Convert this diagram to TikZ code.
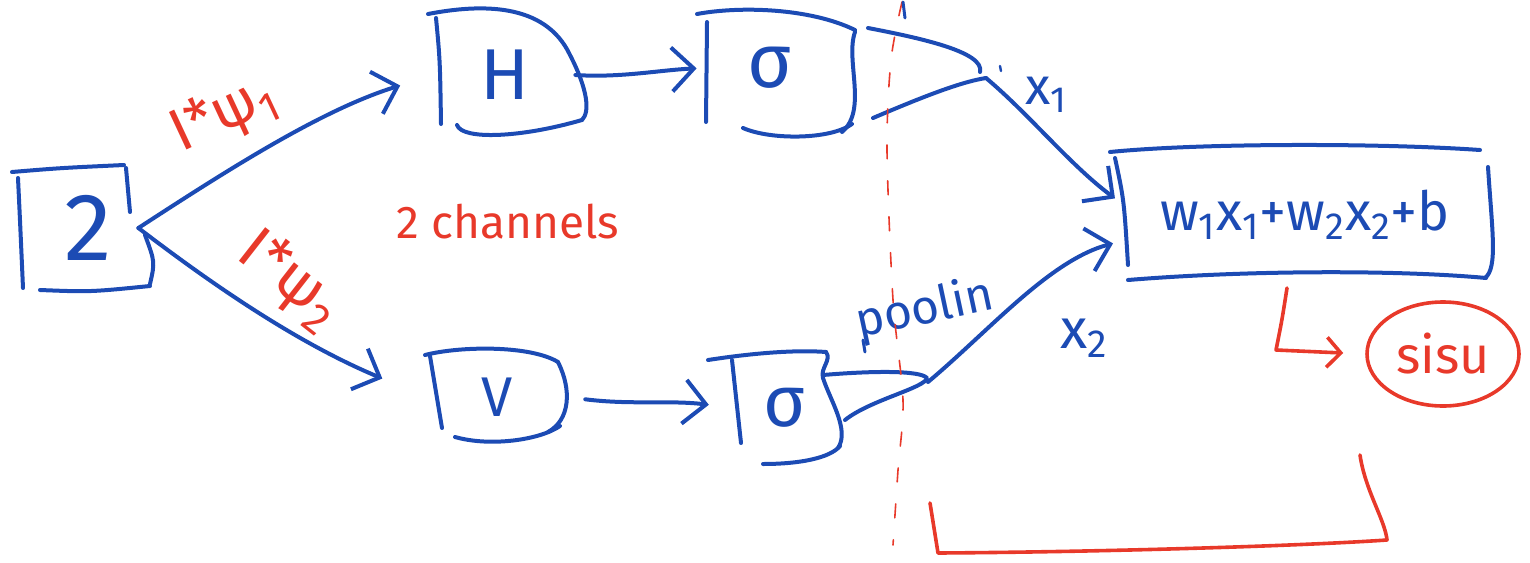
\documentclass[tikz,border=0pt]{standalone}
\usepackage{fontspec}
\setmainfont{Fira Sans}
\usetikzlibrary{arrows.meta,shapes.geometric}
\definecolor{ink}{HTML}{1C4BB4}
\definecolor{marker}{HTML}{E8392A}
\begin{document}
\begin{tikzpicture}[x=0.5pt,y=-0.5pt,line cap=round,line join=round,
  pen/.style={draw=ink,line width=2pt},
  redpen/.style={draw=marker,line width=1.8pt},
  guide/.style={draw=marker,line width=0.8pt,dash pattern=on 7pt off 11pt},
  barb/.style={-{Straight Barb[length=11pt,width=22pt]}},
  redbarb/.style={-{Straight Barb[length=7pt,width=15pt]}},
  area/.style={draw=none,inner sep=0pt},
  bluetext/.style={text=ink},
  redtext/.style={text=marker}]
\useasboundingbox (0,0) rectangle (1530,562);

% ---------- nodes (text and box areas) ----------
\node[area,minimum width=50pt,minimum height=60pt,bluetext,
      font=\fontsize{48}{48}\selectfont] (two) at (88,228) {2};
\node[area,minimum width=70pt,minimum height=60pt,bluetext,
      font=\fontsize{36}{36}\selectfont] (h) at (505,75) {H};
\node[area,minimum width=65pt,minimum height=55pt,bluetext,
      font=\fontsize{38}{38}\selectfont] (u) at (770,68) {σ};
\node[area,minimum width=70pt,minimum height=45pt,bluetext,
      font=\fontsize{28}{28}\selectfont] (v) at (497,397) {V};
\node[area,minimum width=50pt,minimum height=50pt,bluetext,
      font=\fontsize{36}{36}\selectfont] (s2) at (785,408) {σ};
\node[area,minimum width=180pt,minimum height=60pt,bluetext,
      font=\fontsize{27}{27}\selectfont] (out) at (1305,215)
      {w\textsubscript{1}x\textsubscript{1}+w\textsubscript{2}x\textsubscript{2}+b};
\node[ellipse,draw=marker,line width=1.8pt,minimum width=76pt,minimum height=52pt,
      inner sep=0pt,redtext,font=\fontsize{26}{26}\selectfont] (sisu) at (1443,354) {sisu};

% labels
\node[redtext,rotate=25,font=\fontsize{30}{30}\selectfont] (psi1) at (224,115) {I*ψ\textsubscript{1}};
\node[redtext,rotate=-38,font=\fontsize{31}{31}\selectfont] (psi2) at (290,280) {I*ψ\textsubscript{2}};
\node[redtext,font=\fontsize{23}{23}\selectfont] (chan) at (508,222) {2 channels};
\node[bluetext,font=\fontsize{26}{26}\selectfont] (x1) at (1046,95) {x\textsubscript{1}};
\node[bluetext,font=\fontsize{28}{28}\selectfont] (x2) at (1084,338) {x\textsubscript{2}};
\node[bluetext,rotate=12,font=\fontsize{24}{24}\selectfont] (pool) at (925,310) {poolin};

% ---------- hand-drawn box outlines ----------
% box "2"
\draw[pen] (18,178) .. controls (20,220) .. (23,288);
\draw[pen] (12,172) .. controls (60,168) .. (124,165);
\draw[pen] (126,168) -- (130,212);
\draw[pen] (145,235) .. controls (155,262) .. (150,284);
\draw[pen] (40,290) .. controls (90,292) .. (150,286);
% box H
\draw[pen] (436,18) .. controls (440,60) .. (441,124);
\draw[pen] (428,14) .. controls (480,4) and (545,2) .. (570,55)
           .. controls (588,90) and (590,112) .. (582,120);
\draw[pen] (457,125) .. controls (462,140) and (520,138) .. (582,120);
% box sigma (upper)
\draw[pen] (697,14) .. controls (740,6) and (810,8) .. (855,30);
\draw[pen] (707,22) -- (706,122);
\draw[pen] (855,32) .. controls (845,60) and (868,110) .. (842,132);
\draw[pen] (743,128) .. controls (770,140) and (830,140) .. (852,124);
% box V
\draw[pen] (425,355) .. controls (460,346) and (530,345) .. (558,362);
\draw[pen] (430,356) -- (442,428);
\draw[pen] (558,362) .. controls (572,390) and (570,420) .. (548,432);
\draw[pen] (455,437) .. controls (490,447) and (540,440) .. (560,426);
% box sigma (lower)
\draw[pen] (708,360) .. controls (760,352) and (800,350) .. (826,352);
\draw[pen] (732,360) -- (741,443);
\draw[pen] (826,352) .. controls (832,360) and (820,368) .. (823,378)
           .. controls (830,400) and (850,430) .. (838,448);
\draw[pen] (763,464) .. controls (800,464) and (830,458) .. (840,446);
% output box
\draw[pen] (1110,152) .. controls (1200,143) and (1380,143) .. (1480,150);
\draw[pen] (1115,158) .. controls (1124,200) .. (1128,265);
\draw[pen] (1488,167) .. controls (1492,230) and (1498,268) .. (1485,278);
\draw[pen] (1128,280) .. controls (1250,270) and (1400,270) .. (1486,278);

% ---------- pooling funnels ----------
\coordinate (pa) at (986,78);
\coordinate (pb) at (928,382);
\draw[pen] (868,28) .. controls (920,38) and (985,52) .. (980,72);
\draw[pen] (873,118) .. controls (920,98) and (960,82) .. (pa);
\draw[pen] (823,375) .. controls (870,371) and (920,370) .. (927,378)
           .. controls (925,388) and (870,400) .. (845,420);

% ---------- connectors ----------
\draw[pen,barb,shorten >=18pt] (two.east) .. controls (220,175) and (320,110) .. (h.west);
\draw[pen,barb,shorten >=24pt] (two.east) .. controls (200,275) and (290,340) .. (v.west);
\draw[pen,barb,shorten >=4pt] (h.east) .. controls (620,78) and (660,70) .. (u.west);
\draw[pen,barb,shorten <=9pt,shorten >=13pt] (v.east) .. controls (630,405) and (670,400) .. (s2.west);
\draw[pen,barb,shorten >=6pt] (pa) .. controls (1030,115) and (1070,165) .. (out.177);
\draw[pen,barb,shorten >=6pt] (pb) .. controls (990,330) and (1050,260) .. (out.188);

% result to activation
\coordinate (lstart) at (1287,288);
\draw[redpen,redbarb,shorten >=11pt] (lstart) .. controls (1282,320) .. (1276,350) -- (sisu.west);

% ---------- red guide and bracket ----------
\draw[guide] plot[smooth] coordinates {(902,2) (891,60) (887,150) (893,300) (903,400) (898,470) (893,545)};
\draw[redpen] (930,503) -- (938,553) .. controls (1100,552) and (1300,546) .. (1387,540)
              .. controls (1385,520) and (1365,490) .. (1360,455);

% small stray strokes
\draw[pen,line width=1.5pt] (903,2) -- (905,18);
\draw[pen,line width=1.2pt] (1000,66) -- (1001,71);
\draw[pen,line width=1.5pt] (863,340) -- (865,352);
\end{tikzpicture}
\end{document}
